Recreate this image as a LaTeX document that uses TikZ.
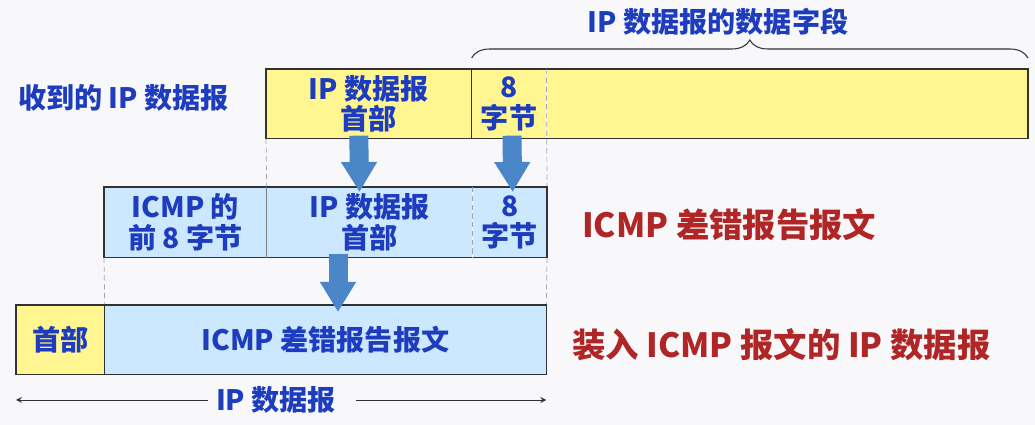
\documentclass[tikz,border=0pt]{standalone}
\usepackage{fontspec}
\setmainfont{Noto Sans CJK SC}
\usetikzlibrary{positioning,arrows.meta,decorations.pathreplacing}

\definecolor{pagebg}{RGB}{248,248,250}
\definecolor{hdryellow}{RGB}{255,246,145}
\definecolor{icmpblue}{RGB}{204,232,255}
\definecolor{txtblue}{RGB}{30,60,190}
\definecolor{txtred}{RGB}{176,38,38}
\definecolor{arrowblue}{RGB}{74,134,200}
\definecolor{framegray}{RGB}{50,50,50}

\tikzset{
  cell/.style={inner sep=0pt,align=center,text=txtblue,
    font=\fontsize{16}{17.5}\selectfont\bfseries},
  yel/.style={cell,fill=hdryellow},
  blu/.style={cell,fill=icmpblue},
  frame/.style={draw=framegray,line width=0.7pt},
  guide/.style={draw=gray!70,densely dashed,line width=0.4pt},
  blockarrow/.style={draw=arrowblue,line width=0.38cm,
    -{Triangle[length=0.6cm,width=0.68cm]}},
  bluelbl/.style={text=txtblue,font=\fontsize{16}{18}\selectfont\bfseries},
  redlbl/.style={text=txtred,font=\fontsize{19}{22}\selectfont\bfseries}
}

\begin{document}
\begin{tikzpicture}[>=stealth,x=0.02cm,y=0.02cm]
    \useasboundingbox[fill=pagebg] (0,0) rectangle (1035,425);

    % received datagram
    \node[yel,minimum width=4.1cm,minimum height=1.38cm,anchor=north west]
        (rhdr) at (266,356) {IP 数据报\\首部};
    \node[yel,minimum width=1.48cm,minimum height=1.38cm,right=0pt of rhdr]
        (r8) {8\\字节};
    \node[yel,minimum width=9.62cm,minimum height=1.38cm,right=0pt of r8]
        (rrest) {};

    % icmp error message
    \node[blu,minimum width=3.24cm,minimum height=1.4cm,anchor=north west]
        (micmp) at (104,238) {ICMP 的\\前 8 字节};
    \node[blu,minimum width=4.1cm,minimum height=1.4cm,right=0pt of micmp]
        (mhdr) {IP 数据报\\首部};
    \node[blu,minimum width=1.48cm,minimum height=1.4cm,right=0pt of mhdr]
        (m8) {8\\字节};

    % new datagram
    \node[yel,minimum width=1.76cm,minimum height=1.38cm,anchor=north west]
        (bhdr) at (16,120) {首部};
    \node[blu,minimum width=8.82cm,minimum height=1.38cm,right=0pt of bhdr]
        (bbody) {ICMP 差错报告报文};

    % frames and guides
    \draw[frame] (rhdr.north west) rectangle (rrest.south east);
    \draw[frame] (rhdr.north east) -- (rhdr.south east);
    \draw[guide] (r8.north east) -- (m8.north east);
    \draw[guide] (rhdr.south west) -- (mhdr.north west);
    \draw[frame] (micmp.north west) rectangle (m8.south east);
    \draw[draw=gray,line width=0.6pt] (micmp.north east) -- (micmp.south east);
    \draw[guide] (m8.north west) -- (m8.south west);
    \draw[guide] (micmp.south west) -- (bbody.north west);
    \draw[guide] (m8.south east) -- (bbody.north east);
    \draw[frame] (bhdr.north west) rectangle (bbody.south east);
    \draw[frame] (bhdr.north east) -- (bhdr.south east);

    % arrows between rows
    \draw[blockarrow] ([xshift=-0.2cm,yshift=0.06cm]rhdr.south)
        -- ([xshift=-0.2cm,yshift=-0.1cm]mhdr.north);
    \draw[blockarrow] ([xshift=0.06cm,yshift=0.06cm]r8.south)
        -- ([xshift=0.06cm,yshift=-0.1cm]m8.north);
    \draw[blockarrow] ([xshift=-0.63cm,yshift=0.08cm]mhdr.south)
        -- ([xshift=-0.63cm,yshift=-0.14cm]mhdr.south |- bbody.north);

    % labels
    \node[bluelbl,anchor=west] (rcv) at (12,327) {收到的 IP 数据报};
    \node[bluelbl] (fld) at (718,403) {IP 数据报的数据字段};
    \draw[draw=framegray,line width=0.6pt,decorate,
        decoration={brace,amplitude=0.36cm}]
        ([yshift=0.22cm]r8.north west) -- ([yshift=0.22cm]rrest.north east);
    \node[redlbl,anchor=west] (errlbl) at (576,200) {ICMP 差错报告报文};
    \node[redlbl,anchor=west] (newlbl) at (566,80) {装入 ICMP 报文的 IP 数据报};

    % length of new datagram
    \node[bluelbl,fill=pagebg,inner xsep=0.16cm] (dimlbl) at (276,25) {IP 数据报};
    \draw[->,draw=framegray,line width=0.5pt] (dimlbl.west) -- (bhdr.west |- dimlbl);
    \draw[->,draw=framegray,line width=0.5pt,shorten <=0.24cm]
        (dimlbl.east) -- (bbody.east |- dimlbl);
\end{tikzpicture}
\end{document}
